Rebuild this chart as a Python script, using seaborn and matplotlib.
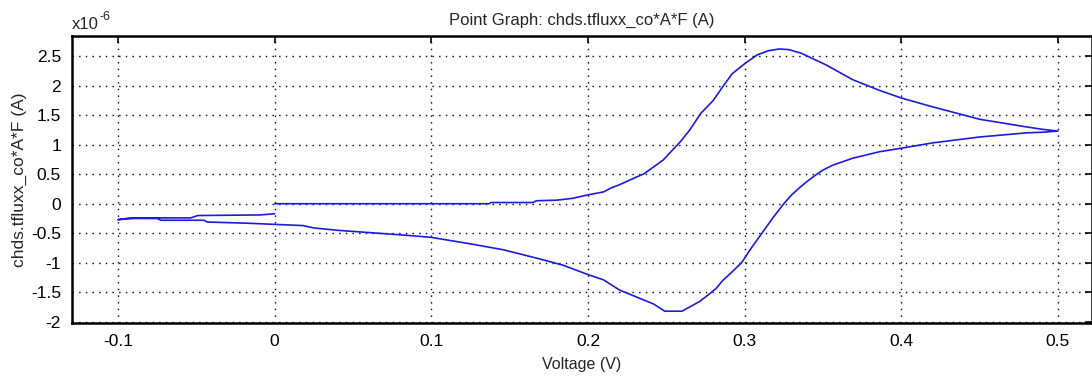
import numpy as np
import pandas as pd
import matplotlib
matplotlib.use("Agg")
import matplotlib.pyplot as plt
import seaborn as sns

# Forward scan (starts at 0 V, 0 A)
fwd_v = [0.0, 0.137, 0.138, 0.165, 0.167, 0.18, 0.19, 0.20, 0.21, 0.215, 0.22, 0.23,
         0.236, 0.248, 0.259, 0.265, 0.272, 0.28, 0.286, 0.292, 0.30, 0.308, 0.315,
         0.322, 0.328, 0.336, 0.352, 0.369, 0.386, 0.40, 0.42, 0.45, 0.48, 0.49, 0.50]
fwd_i = [0.0, 0.0, 0.02, 0.02, 0.05, 0.06, 0.09, 0.15, 0.20, 0.27, 0.32, 0.44,
         0.51, 0.74, 1.05, 1.25, 1.53, 1.75, 1.98, 2.20, 2.37, 2.52, 2.59,
         2.62, 2.61, 2.55, 2.35, 2.10, 1.92, 1.79, 1.64, 1.43, 1.30, 1.26, 1.23]

# Reverse scan (0.5 V down to -0.1 V)
rev_v = [0.49, 0.48, 0.45, 0.42, 0.40, 0.386, 0.369, 0.356, 0.35, 0.345, 0.34, 0.335,
         0.33, 0.325, 0.318, 0.311, 0.304, 0.298, 0.291, 0.286, 0.282, 0.276, 0.271,
         0.26, 0.249, 0.242, 0.22, 0.21, 0.20, 0.184, 0.167, 0.146, 0.125, 0.10, 0.082,
         0.061, 0.04, 0.025, 0.018, 0.0, -0.0175, -0.043, -0.045, -0.0726, -0.075,
         -0.09, -0.1]
rev_i = [1.21, 1.20, 1.13, 1.03, 0.94, 0.88, 0.77, 0.65, 0.57, 0.48, 0.38, 0.27,
         0.15, 0.0, -0.24, -0.5, -0.76, -1.0, -1.18, -1.30, -1.43, -1.56, -1.66,
         -1.82, -1.82, -1.70, -1.46, -1.29, -1.20, -1.04, -0.92, -0.78, -0.68, -0.57, -0.53,
         -0.49, -0.45, -0.41, -0.37, -0.35, -0.33, -0.31, -0.28, -0.28, -0.25,
         -0.25, -0.27]

# Second forward sweep back to 0 V
ret_v = [-0.092, -0.0535, -0.049, -0.009, 0.0]
ret_i = [-0.24, -0.24, -0.20, -0.19, -0.17]

df = pd.DataFrame({
    "Voltage": fwd_v + rev_v + ret_v,
    "Current": fwd_i + rev_i + ret_i,
})

sns.set_style("white")
plt.rcParams["font.family"] = ["Liberation Sans", "DejaVu Sans"]

fig = plt.figure(figsize=(10.92, 3.83), dpi=100)
ax = fig.add_axes([72 / 1092, 1 - 323 / 383, 1 - 72 / 1092, (323 - 36) / 383])

sns.lineplot(data=df, x="Voltage", y="Current", sort=False, estimator=None,
             color="#1c1cdc", linewidth=1.2, ax=ax)

ax.set_xlim(-0.1293, 0.5217)
ax.set_ylim(-2.02, 2.84)
ax.set_xticks([-0.1, 0, 0.1, 0.2, 0.3, 0.4, 0.5])
ax.set_xticklabels(["-0.1", "0", "0.1", "0.2", "0.3", "0.4", "0.5"])
ax.set_yticks([-2, -1.5, -1, -0.5, 0, 0.5, 1, 1.5, 2, 2.5])
ax.set_yticklabels(["-2", "-1.5", "-1", "-0.5", "0", "0.5", "1", "1.5", "2", "2.5"])

ax.grid(True, color="black", linestyle=(0, (1, 3.8)), linewidth=1.0)
ax.tick_params(direction="in", length=5, width=1.2, top=True, right=True,
               labelsize=12.5, colors="black", pad=8)
for s in ax.spines.values():
    s.set_color("black")
    s.set_linewidth(1.8)

ax.set_xlabel("Voltage (V)", fontsize=11.5, labelpad=6)
ax.set_ylabel("chds.tfluxx_co*A*F (A)", fontsize=12.5, labelpad=3)
ax.set_title("Point Graph: chds.tfluxx_co*A*F (A)", fontsize=12, pad=8)

# exponent label above the y axis
ax.annotate("x10", xy=(0, 1), xycoords="axes fraction", xytext=(0, 3),
            textcoords="offset points", fontsize=12, ha="left", va="bottom")
ax.annotate("-6", xy=(0, 1), xycoords="axes fraction", xytext=(19.5, 9),
            textcoords="offset points", fontsize=9, ha="left", va="bottom")

fig.savefig("out.png", dpi=100)
